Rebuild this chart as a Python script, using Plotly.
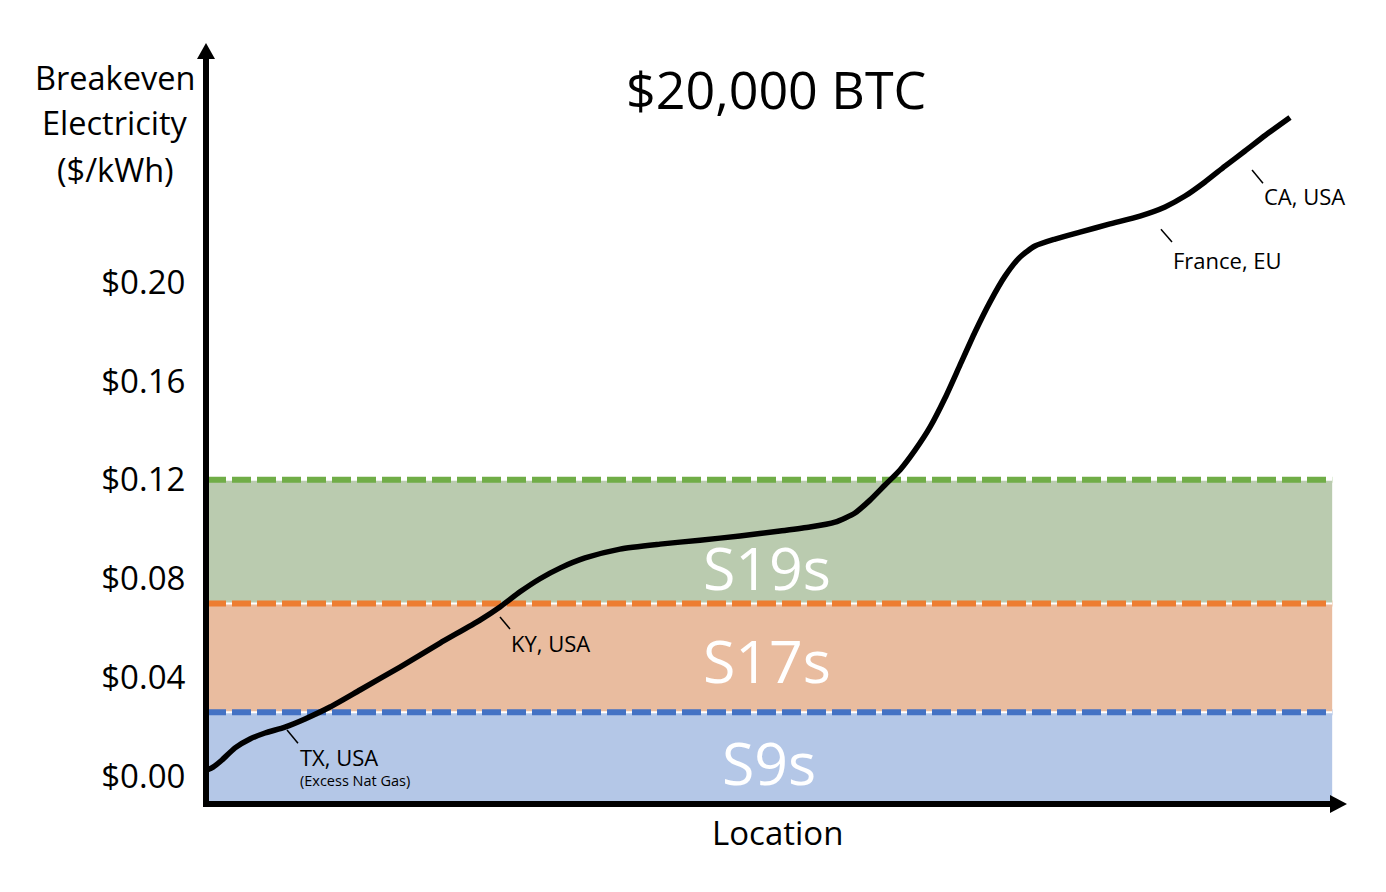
import plotly.graph_objects as go

# ---------------- data ----------------
location = [0, 0.53, 1.32, 2.46, 3.77, 5.09, 6.84, 8.60, 10.79, 13.42, 16.93, 20.44,
            23.95, 25.70, 27.46, 29.21, 30.96, 33.16, 36.23, 39.74, 43.25, 46.75,
            50.26, 52.89, 55.09, 56.84, 58.16, 59.47, 60.79, 62.11, 63.42, 64.74,
            66.05, 67.37, 68.68, 70.00, 71.32, 72.63, 74.39, 76.58, 79.21, 81.84,
            84.04, 85.79, 87.54, 89.30, 91.05, 92.81, 95.00]
breakeven = [0.0026, 0.0038, 0.0067, 0.0116, 0.0152, 0.0176, 0.0200, 0.0233, 0.0281,
             0.0350, 0.0443, 0.0540, 0.0633, 0.0686, 0.0747, 0.0800, 0.0843, 0.0884,
             0.0920, 0.0940, 0.0956, 0.0973, 0.0993, 0.1009, 0.1029, 0.1066, 0.1118,
             0.1179, 0.1240, 0.1320, 0.1413, 0.1531, 0.1664, 0.1798, 0.1919, 0.2024,
             0.2101, 0.2146, 0.2174, 0.2202, 0.2235, 0.2267, 0.2304, 0.2348, 0.2405,
             0.2469, 0.2530, 0.2593, 0.2666]

miner_names = ["S9s", "S17s", "S19s"]
miner_thresholds = [0.026, 0.07, 0.12]
band_colors = ["#B4C7E7", "#E9BC9F", "#BACBAF"]
line_colors = ["#4472C4", "#ED7D31", "#70AD47"]
miner_label_x = [49.3, 49.1, 49.1]
miner_label_y = [0.0059, 0.0471, 0.0847]

tick_vals = [0.00, 0.04, 0.08, 0.12, 0.16, 0.20]
tick_text = ["$0.00", "$0.04", "$0.08", "$0.12", "$0.16", "$0.20"]

site_names = ["TX, USA", "KY, USA", "France, EU", "CA, USA"]
site_label_x = [8.16, 26.67, 84.74, 92.72]
site_label_y = [0.0079, 0.0542, 0.2089, 0.2350]
leader_x0 = [7.02, 25.70, 83.68, 91.67]
leader_y0 = [0.0188, 0.0645, 0.2214, 0.2453]
leader_x1 = [7.98, 26.58, 84.65, 92.63]
leader_y1 = [0.0135, 0.0597, 0.2162, 0.2400]

# ---------------- layout geometry ----------------
OFF = 8                      # page body margin
W, H = 1386 - OFF, 892 - OFF
L, R, T, B = 207 - OFF, 39, 43 - OFF, 90
X_RANGE = [0, 100]
Y_RANGE = [-0.0103, 0.2967]
BAND_END = 98.7
FONT = "Open Sans"


def px(p):   # page pixel x -> paper x
    return (p - OFF - L) / (W - L - R)


def py(p):   # page pixel y -> paper y
    return (H - B - (p - OFF)) / (H - T - B)


fig = go.Figure()

shapes = []
annotations = []

# bands
lower = Y_RANGE[0]
for thr, bc in zip(miner_thresholds, band_colors):
    shapes.append(dict(type="rect", xref="x", yref="y", x0=0, x1=BAND_END,
                       y0=lower, y1=thr, fillcolor=bc, line_width=0, layer="below"))
    lower = thr

# brown edge on the S17s band
shapes.append(dict(type="line", xref="paper", yref="y", x0=px(206), x1=px(206),
                   y0=miner_thresholds[0], y1=miner_thresholds[1],
                   line=dict(color="#5a2d0c", width=6), layer="below"))

# dashed threshold lines
for thr, lc in zip(miner_thresholds, line_colors):
    shapes.append(dict(type="line", xref="x", yref="y", x0=0, x1=BAND_END, y0=thr, y1=thr,
                       line=dict(color="white", width=2), layer="below"))
    shapes.append(dict(type="line", xref="x", yref="y", x0=0, x1=BAND_END, y0=thr, y1=thr,
                       line=dict(color=lc, width=6, dash="19px,6px"), layer="below"))

# band labels
for name, lx, ly in zip(miner_names, miner_label_x, miner_label_y):
    annotations.append(dict(x=lx, y=ly, xref="x", yref="y", text=name, showarrow=False,
                            xanchor="center", yanchor="middle",
                            font=dict(family=FONT, size=59, color="white")))

# curve
fig.add_trace(go.Scatter(x=location, y=breakeven, mode="lines",
                         line=dict(color="black", width=5.5, shape="spline", smoothing=0.6),
                         hoverinfo="skip", showlegend=False, cliponaxis=False))

# site leaders + labels
for name, lx, ly, a0, b0, a1, b1 in zip(site_names, site_label_x, site_label_y,
                                         leader_x0, leader_y0, leader_x1, leader_y1):
    shapes.append(dict(type="line", xref="x", yref="y", x0=a0, y0=b0, x1=a1, y1=b1,
                       line=dict(color="black", width=1.5)))
    annotations.append(dict(x=lx, y=ly, xref="x", yref="y", text=name, showarrow=False,
                            xanchor="left", yanchor="middle", xshift=-2,
                            font=dict(family=FONT, size=22, color="black")))
annotations.append(dict(x=site_label_x[0], y=-0.0018, xref="x", yref="y",
                        text="(Excess Nat Gas)", showarrow=False, xanchor="left",
                        yanchor="middle", xshift=-2,
                        font=dict(family=FONT, size=14.5, color="black")))

# axes with arrows
shapes.append(dict(type="line", xref="paper", yref="paper", x0=px(206), x1=px(206),
                   y0=py(806), y1=py(58), line=dict(color="black", width=6), layer="above"))
shapes.append(dict(type="path", xref="paper", yref="paper",
                   path=f"M {px(197)} {py(59)} L {px(215)} {py(59)} L {px(206)} {py(43)} Z",
                   fillcolor="black", line_width=0, layer="above"))
shapes.append(dict(type="line", xref="paper", yref="paper", x0=px(203), x1=px(1331),
                   y0=py(804), y1=py(804), line=dict(color="black", width=6), layer="above"))
shapes.append(dict(type="path", xref="paper", yref="paper",
                   path=f"M {px(1330)} {py(795)} L {px(1330)} {py(813)} L {px(1347)} {py(804)} Z",
                   fillcolor="black", line_width=0, layer="above"))

# title and axis titles
annotations.append(dict(x=px(776), y=py(88), xref="paper", yref="paper", text="$20,000 BTC",
                        showarrow=False, xanchor="center", yanchor="middle",
                        font=dict(family=FONT, size=52, color="black")))
for txt, cy in zip(["Breakeven", "Electricity", "($/kWh)"], [77, 123, 169]):
    annotations.append(dict(x=px(115), y=py(cy), xref="paper", yref="paper", text=txt,
                            showarrow=False, xanchor="center", yanchor="middle",
                            font=dict(family=FONT, size=32.5, color="black")))
annotations.append(dict(x=px(777), y=py(832), xref="paper", yref="paper", text="Location",
                        showarrow=False, xanchor="center", yanchor="middle",
                        font=dict(family=FONT, size=33, color="black")))

fig.update_layout(
    width=W, height=H,
    margin=dict(l=L, r=R, t=T, b=B, pad=0),
    paper_bgcolor="white", plot_bgcolor="white",
    shapes=shapes, annotations=annotations,
    xaxis=dict(range=X_RANGE, showgrid=False, zeroline=False, showticklabels=False,
               showline=False, fixedrange=True),
    yaxis=dict(range=Y_RANGE, showgrid=False, zeroline=False, showline=False,
               tickvals=tick_vals, ticktext=tick_text, ticks="outside", ticklen=14,
               tickcolor="rgba(0,0,0,0)",
               tickfont=dict(family=FONT, size=33, color="black"), fixedrange=True),
    showlegend=False,
)

fig.write_html("out.html")
